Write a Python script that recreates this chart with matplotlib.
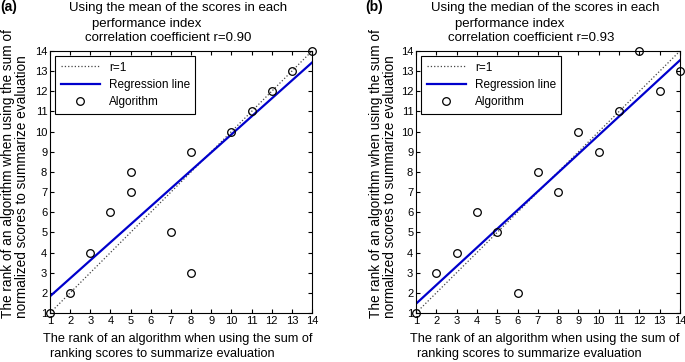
import numpy as np
import matplotlib.pyplot as plt

plt.rcParams['font.family'] = ['Liberation Sans', 'DejaVu Sans']

# left panel: mean of scores
x_mean = [1, 2, 3, 4, 5, 5, 7, 8, 8, 10, 11, 12, 13, 14]
y_mean = [1, 2, 4, 6, 8, 7, 5, 9, 3, 10, 11, 12, 13, 14]
# right panel: median of scores
x_med = [1, 2, 3, 4, 5, 6, 7, 8, 9, 10, 11, 12, 13, 14]
y_med = [1, 3, 4, 6, 5, 2, 8, 7, 10, 9, 11, 14, 12, 13]

titles = [["Using the mean of the scores in each", "performance index",
           "correlation coefficient r=0.90"],
          ["Using the median of the scores in each", "performance index",
           "correlation coefficient r=0.93"]]
panel_tags = ["(a)", "(b)"]
ticks = list(range(1, 15))

xlab = ["The rank of an algorithm when using the sum of",
        "ranking scores to summarize evaluation"]
ylab = "The rank of an algorithm when using the sum of\nnormalized scores to summarize evaluation"

W, H = 685, 362
fig = plt.figure(figsize=(W / 100, H / 100), dpi=100)


def px(x, y):
    # pixel coords (from top-left) -> figure fraction
    return x / W, 1 - y / H


ax1 = fig.add_axes([50 / W, 1 - 313 / H, 262 / W, 262 / H])
ax2 = fig.add_axes([416 / W, 1 - 313 / H, 264 / W, 262 / H])

# pixel anchors for the texts of each panel
layout = [
    dict(tag=0, t1=178, t2=92, t3=168, yl=15, xl1=178, xl2=50),
    dict(tag=365, t1=545, t2=455, t3=531, yl=383, xl1=545, xl2=417),
]

for i, (ax, xs, ys) in enumerate([(ax1, x_mean, y_mean), (ax2, x_med, y_med)]):
    xs = np.array(xs, dtype=float)
    ys = np.array(ys, dtype=float)
    ax.plot(ticks, ticks, ':', color='#444444', lw=0.9, label='r=1')
    m, b = np.polyfit(xs, ys, 1)
    xx = np.array([1, 14])
    ax.plot(xx, m * xx + b, '-', color='#0000cc', lw=1.6, label='Regression line')
    ax.plot(xs, ys, 'o', mfc='none', mec='k', ms=5.5, mew=0.9, label='Algorithm',
            clip_on=False)
    ax.set_xlim(1, 14)
    ax.set_ylim(1, 14)
    ax.set_xticks(ticks)
    ax.set_yticks(ticks)
    ax.tick_params(direction='in', top=True, right=True, labelsize=8, length=3,
                   pad=2)
    leg = ax.legend(loc='upper left', fontsize=8.5, fancybox=False, framealpha=1,
                    edgecolor='k', borderaxespad=0.45, handlelength=3.3,
                    labelspacing=0.45, borderpad=0.45)
    leg.get_frame().set_linewidth(0.8)

    L = layout[i]
    fig.text(*px(L['tag'], 7), panel_tags[i], fontsize=10, fontweight='bold',
             va='center', ha='left')
    fig.text(*px(L['t1'], 8), titles[i][0], fontsize=9.5, ha='center', va='center')
    fig.text(*px(L['t2'], 24), titles[i][1], fontsize=9.5, ha='left', va='center')
    fig.text(*px(L['t3'], 38), titles[i][2], fontsize=9.5, ha='center', va='center')
    fig.text(*px(L['xl1'], 339), xlab[0], fontsize=9.2, ha='center', va='center')
    fig.text(*px(L['xl2'], 354), xlab[1], fontsize=9.2, ha='left', va='center')
    fig.text(*px(L['yl'], 318), ylab, fontsize=9.8, rotation=90, ha='center',
             va='bottom', multialignment='left', linespacing=1.05)

fig.savefig('out.png', dpi=100)
